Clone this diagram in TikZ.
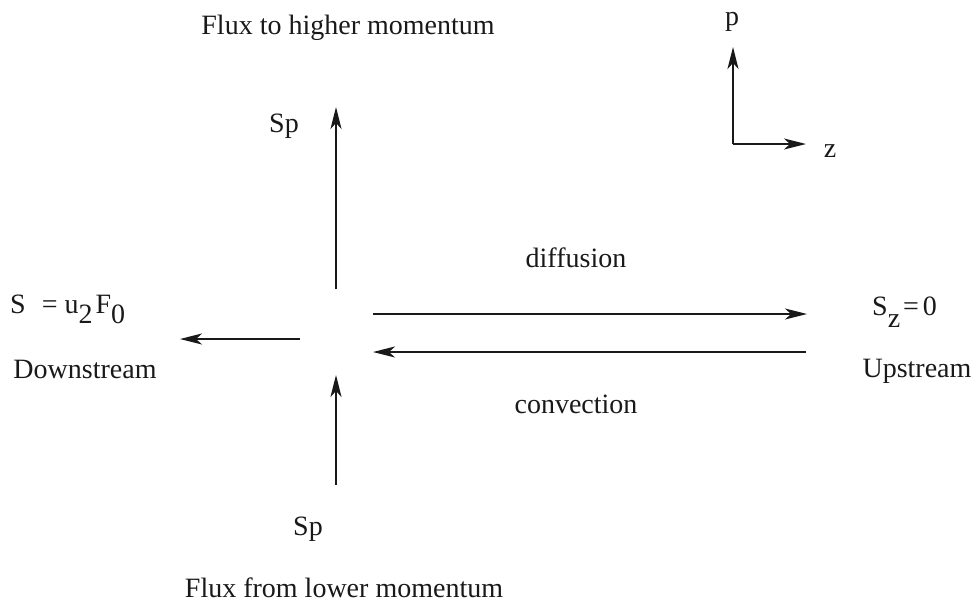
\documentclass[tikz,border=0pt]{standalone}
\usepackage{fontspec}
\setmainfont{Liberation Serif}
\usetikzlibrary{arrows.meta}
\begin{document}
\begin{tikzpicture}[x=1pt,y=-1pt,
  font=\fontsize{28}{32}\selectfont,
  lbl/.style={inner sep=0pt, anchor=base, text=black!90},
  arr/.style={line width=2pt, draw=black!90, -{Stealth[length=22pt,width=11pt,inset=6pt]}}]
\useasboundingbox (0,0) rectangle (974,603);
% texts
\node[lbl] (ttop) at (348,34) {Flux to higher momentum};
\node[lbl] (tbot) at (344,597) {Flux from lower momentum};
\node[lbl] (sptop) at (284,132) {Sp};
\node[lbl] (spbot) at (308,535) {Sp};
\node[lbl] (diff) at (576,267) {diffusion};
\node[lbl] (conv) at (576,413) {convection};
\node[lbl] (down) at (85,378) {Downstream};
\node[lbl] (up) at (917,377) {Upstream};
\node[lbl, anchor=base west] (sleft) at (10,313) {S\hspace{16pt}=\hspace{7pt}u\raisebox{-10pt}{2}\hspace{3pt}F\raisebox{-10pt}{0}};
\node[lbl, anchor=base west] (sright) at (872,315) {S\raisebox{-12pt}{z}\hspace{3pt}=\hspace{4pt}0};
\node[lbl] (plab) at (732,25) {p};
\node[lbl] (zlab) at (830,157) {z};
% coordinates
\coordinate (vtT) at (336,289);
\coordinate (vtH) at (336,107);
\coordinate (vbT) at (336,485);
\coordinate (vbH) at (336,375);
\coordinate (lT) at (300,339);
\coordinate (lH) at (180,339);
\coordinate (dT) at (373,314);
\coordinate (dH) at (807,314);
\coordinate (cT) at (806,352);
\coordinate (cH) at (373,352);
\coordinate (o) at (733,144);
\coordinate (pH) at (733,47);
\coordinate (zH) at (806,144);
% arrows
\draw[arr] (vtT) -- (vtH);
\draw[arr] (vbT) -- (vbH);
\draw[arr] (lT) -- (lH);
\draw[arr] (dT) -- (dH);
\draw[arr] (cT) -- (cH);
\draw[arr] (o) -- (pH);
\draw[arr] (o) -- (zH);
\end{tikzpicture}
\end{document}
